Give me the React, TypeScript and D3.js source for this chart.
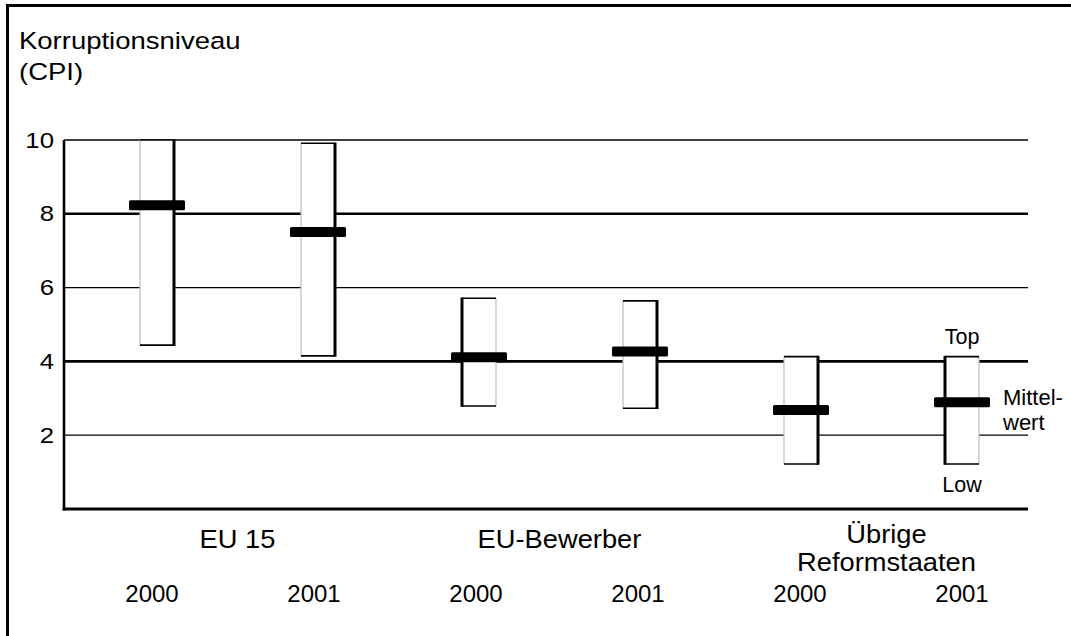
import React from "react";
import * as d3 from "d3";

const groups = ["EU 15", "EU-Bewerber", "Übrige\nReformstaaten"];
const years = ["2000", "2001"];
const boxKeys = ["EU15-2000", "EU15-2001", "EUB-2000", "EUB-2001", "UR-2000", "UR-2001"];
const topValues = [10.0, 9.91, 5.71, 5.64, 4.13, 4.13];
const lowValues = [4.44, 4.15, 2.79, 2.73, 1.22, 1.22];
const meanValues = [8.23, 7.51, 4.11, 4.27, 2.68, 2.89];
const shadowSide = ["right", "right", "left", "right", "right", "left"];
const yTicks = [2, 4, 6, 8, 10];
const thickTicks = [4, 8];

const FONT = "'Liberation Sans', Arial, Helvetica, sans-serif";

function SText(props: {
  x: number; y: number; sx?: number; size: number; anchor?: string; children: React.ReactNode;
}) {
  const { x, y, sx = 1, size, anchor = "start", children } = props;
  return (
    <text
      transform={`translate(${x},${y}) scale(${sx},1)`}
      fontSize={size}
      textAnchor={anchor}
      fontFamily={FONT}
      fill="#000"
    >
      {children}
    </text>
  );
}

export default function App() {
  const W = 1071;
  const H = 636;
  const plotLeft = 64;
  const plotRight = 1028;
  const y = d3.scaleLinear().domain([0, 10]).range([509, 140]);
  const x = d3.scalePoint<string>().domain(boxKeys).range([157, 962]);
  const yearX = d3.scalePoint<string>().domain(boxKeys).range([152, 962]);
  const boxW = 34;
  const barW = 56;
  const barH = 10;

  return (
    <svg
      width={W}
      height={H}
      style={{ position: "absolute", left: 0, top: 0, background: "#fff" }}
    >
      <rect x={0} y={0} width={W} height={H} fill="#fff" />
      {/* frame */}
      <rect x={7.5} y={5.5} width={W + 20} height={H + 20} fill="none" stroke="#000" strokeWidth={3} />

      {/* axis title */}
      <SText x={19} y={49} size={23.5} sx={1.17}>Korruptionsniveau</SText>
      <SText x={19} y={80} size={23.5} sx={1.17}>(CPI)</SText>

      {/* gridlines */}
      {yTicks.map((t) => (
        <line
          key={"g" + t}
          x1={plotLeft}
          x2={plotRight}
          y1={y(t)}
          y2={y(t)}
          stroke="#000"
          strokeWidth={thickTicks.includes(t) ? 2.6 : 1.3}
        />
      ))}
      {yTicks.map((t) => (
        <SText key={"t" + t} x={54} y={y(t) + 7.5} size={21.5} sx={1.2} anchor="end">
          {String(t)}
        </SText>
      ))}

      {/* axes */}
      <line x1={plotLeft} x2={plotLeft} y1={y(10)} y2={y(0) + 1.5} stroke="#000" strokeWidth={2.6} />
      <line x1={plotLeft - 1.3} x2={plotRight} y1={y(0)} y2={y(0)} stroke="#000" strokeWidth={3.2} />

      {/* boxes */}
      {boxKeys.map((k, i) => {
        const cx = x(k)!;
        const x0 = cx - boxW / 2;
        const x1 = cx + boxW / 2;
        const yt = y(topValues[i]);
        const yb = y(lowValues[i]);
        const darkX = shadowSide[i] === "right" ? x1 : x0;
        const lightX = shadowSide[i] === "right" ? x0 : x1;
        return (
          <g key={k}>
            <rect x={x0} y={yt} width={boxW} height={yb - yt} fill="#fff" />
            <line x1={lightX} x2={lightX} y1={yt} y2={yb} stroke="#bdbdbd" strokeWidth={1.2} />
            <line x1={x0} x2={x1} y1={yt} y2={yt} stroke="#000" strokeWidth={1.6} />
            <line x1={x0} x2={x1} y1={yb} y2={yb} stroke="#000" strokeWidth={1.6} />
            <line x1={darkX} x2={darkX} y1={yt - 0.8} y2={yb + 0.8} stroke="#000" strokeWidth={3} />
          </g>
        );
      })}

      {/* mean bars */}
      {boxKeys.map((k, i) => (
        <rect
          key={"m" + k}
          x={x(k)! - barW / 2}
          y={y(meanValues[i]) - barH / 2}
          width={barW}
          height={barH}
          rx={1.5}
          fill="#000"
        />
      ))}

      {/* legend annotations on last box */}
      {(() => {
        const i = boxKeys.length - 1;
        const cx = x(boxKeys[i])!;
        return (
          <g>
            <SText x={cx} y={y(topValues[i]) - 13} size={21.5} anchor="middle">Top</SText>
            <SText x={cx} y={y(lowValues[i]) + 28} size={21.5} anchor="middle">Low</SText>
            <SText x={cx + boxW / 2 + 24} y={y(meanValues[i]) + 3} size={22}>Mittel-</SText>
            <SText x={cx + boxW / 2 + 24} y={y(meanValues[i]) + 28} size={22}>wert</SText>
          </g>
        );
      })()}

      {/* category labels */}
      {groups.map((g, gi) => {
        const cx = (x(boxKeys[gi * 2])! + x(boxKeys[gi * 2 + 1])!) / 2 + (gi === 2 ? 5 : 0);
        const lines = g.split("\n");
        if (lines.length === 1) {
          return (
            <SText key={g} x={cx} y={548} size={26} sx={1.05} anchor="middle">{lines[0]}</SText>
          );
        }
        return (
          <g key={g}>
            {lines.map((l, li) => (
              <SText key={l} x={cx} y={543 + li * 28} size={26} sx={1.05} anchor="middle">{l}</SText>
            ))}
          </g>
        );
      })}

      {/* year labels */}
      {boxKeys.map((k, i) => (
        <SText key={"y" + k} x={yearX(k)!} y={602} size={24} anchor="middle">
          {years[i % 2]}
        </SText>
      ))}
    </svg>
  );
}
